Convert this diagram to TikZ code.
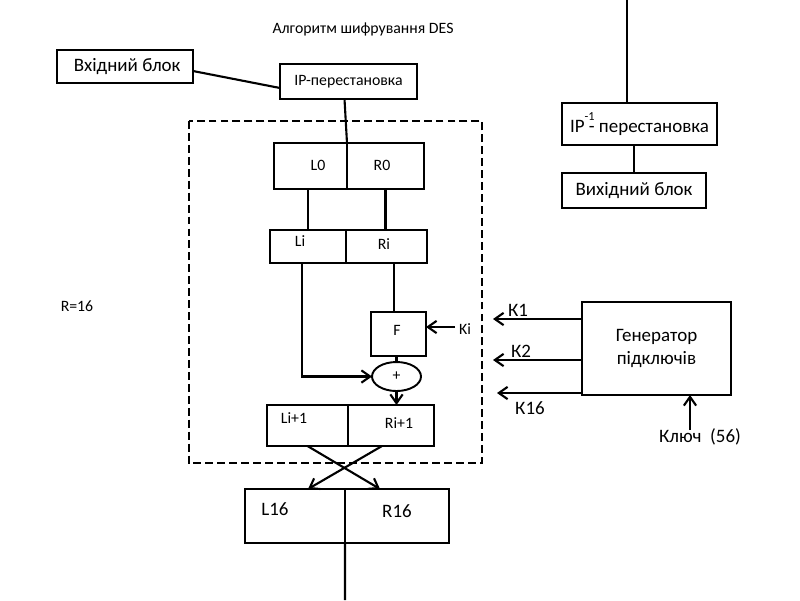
\documentclass[tikz,border=0pt]{standalone}
\usepackage{fontspec}
\setmainfont{Carlito}
\usetikzlibrary{arrows.meta,calc,shapes.geometric}

\begin{document}
\begin{tikzpicture}[x=0.02cm,y=-0.02cm,
  every node/.style={font=\fontsize{9}{11}\selectfont, inner sep=0pt, outer sep=0pt},
  big/.style={font=\fontsize{10.8}{12.6}\selectfont},
  blk/.style={draw, line width=1.4pt},
  con/.style={line width=1.2pt},
  >={Straight Barb[length=5pt,width=7pt]}]
\useasboundingbox (0,0) rectangle (800,600);

\node at (363,29) {Алгоритм шифрування DES};
\node at (77,306) {R=16};

\node[blk, big, minimum width=2.72cm, minimum height=0.66cm] (inblk) at (125,66.5) {\ Вхідний блок};
\node[blk, minimum width=2.74cm, minimum height=0.7cm] (ip) at (348.5,81.5) {IP-перестановка};

\draw[dashed, line width=1.3pt, dash pattern=on 4.5pt off 2.3pt] (189,121) rectangle (482,463);

\node[blk, minimum width=1.46cm, minimum height=0.92cm] (L0) at (310.5,166) {};
\node[blk, minimum width=1.54cm, minimum height=0.92cm] (R0) at (385.5,166) {};
\node at (318,165) {L0};
\node at (382,165) {R0};

\node[blk, minimum width=1.52cm, minimum height=0.66cm] (Li) at (308,246.5) {};
\node[blk, minimum width=1.62cm, minimum height=0.66cm] (Ri) at (386.5,246.5) {};
\node at (300,241) {Li};
\node at (384,244) {Ri};

\node[blk, minimum width=1.1cm, minimum height=0.88cm] (F) at (398.5,334) {};
\node at (397,330) {F};
\node (ki) at (465,329) {Ki};
\node[draw, line width=1.1pt, ellipse, minimum width=0.98cm, minimum height=0.58cm] (xor) at (396.5,376.5) {+};

\node[blk, minimum width=1.62cm, minimum height=0.82cm] (Li1) at (307.5,425.5) {};
\node[blk, minimum width=1.72cm, minimum height=0.82cm] (Ri1) at (391,425.5) {};
\node at (294,418) {Li+1};
\node at (399,423) {Ri+1};

\node[blk, minimum width=2cm, minimum height=1.08cm] (L16) at (295,516) {};
\node[blk, minimum width=2.08cm, minimum height=1.08cm] (R16) at (397,516) {};
\node[big] at (275,509) {L16};
\node[big] at (397,511) {R16};

\node[blk, big, minimum width=3.1cm, minimum height=0.84cm] (ipinv) at (639.5,124) {IP\rlap{\raisebox{1.3ex}{\fontsize{7}{8}\selectfont -1}}\ - перестановка};
\node[blk, big, minimum width=2.88cm, minimum height=0.7cm] (outblk) at (634,190.5) {Вихідний блок};

\node[blk, big, minimum width=2.98cm, minimum height=1.86cm, align=center] (gen) at (656.5,348.5) {Генератор\\підключів};
\node[big] at (518,310) {К1};
\node[big] at (521,351) {К2};
\node[big] at (530,408) {К16};
\node[big] (key) at (700,437) {Ключ\ \ (56)};

\coordinate (rf) at ($(Ri.south)+(7.5,0)$);
\coordinate (bot) at (345,600);
\coordinate (top) at (627,0);
\coordinate (k1) at (493,319);
\coordinate (k2) at (493,360);
\coordinate (k16) at (497,393);
\coordinate (keyin) at (690,430);

\draw[con] ($(inblk.east)+(0,4.5)$) -- ($(ip.west)+(0,6.5)$);
\draw[con] ($(ip.south)+(-4,0)$) -- (L0.north east);
\draw[con] (Li.north |- L0.south) -- (Li.north);
\draw[con] (R0.south) -- (R0.south |- Ri.north);
\draw[con,->] ($(Li.south)+(-6,0)$) |- (xor.west);
\draw[con] (rf) -- (rf |- F.north);
\draw[con,->] ($(ki.west)+(-4,-2)$) -- ($(ki.west -| F.east)+(0,-2)$);
\draw[con] (xor.north |- F.south) -- (xor.north);
\draw[con,->] (xor.south) -- (xor.south |- Ri1.north);
\draw[con,->] (Li1.south) -- ($(R16.north west)+(35,0)$);
\draw[con,->] ($(Ri1.south)+(-9,0)$) -- ($(L16.north)+(13,0)$);
\draw[con] (L16.south east) -- (bot);

\draw[con] (top) -- (top |- ipinv.north);
\draw[con] (outblk.north |- ipinv.south) -- (outblk.north);
\draw[con,->] (gen.west |- k1) -- (k1);
\draw[con,->] (gen.west |- k2) -- (k2);
\draw[con,->] (gen.west |- k16) -- (k16);
\draw[con,->] (keyin) -- (keyin |- gen.south);
\end{tikzpicture}
\end{document}
